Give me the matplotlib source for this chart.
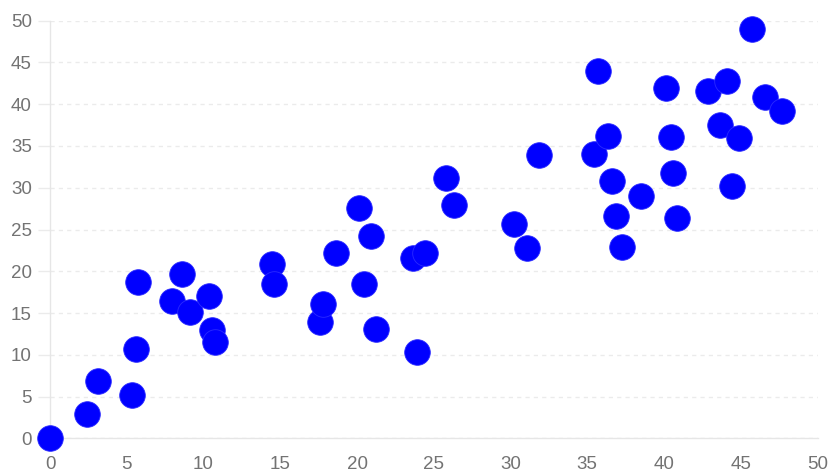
import numpy as np
import matplotlib
matplotlib.use("Agg")
import matplotlib.pyplot as plt

plt.rcParams['font.family'] = ['Liberation Sans', 'DejaVu Sans']

# point values
x_vals = [0, 2.43, 3.15, 5.36, 5.6, 5.75, 7.93, 8.62, 9.14, 10.38,
          10.55, 10.77, 14.44, 14.61, 17.57, 17.81, 18.63, 20.13, 20.9, 20.48,
          21.24, 23.67, 24.43, 23.93, 25.78, 26.32, 30.25, 31.05, 31.86, 35.72,
          35.42, 36.37, 36.63, 36.85, 37.26, 38.48, 40.11, 40.46, 40.59, 40.85,
          42.85, 44.1, 43.65, 44.86, 44.43, 45.71, 46.6, 47.7]
y_vals = [0, 2.87, 6.86, 5.19, 10.7, 18.68, 16.44, 19.64, 15.09, 17.08,
          12.97, 11.5, 20.84, 18.44, 13.89, 16.05, 22.23, 27.54, 24.26, 18.44,
          13.09, 21.63, 22.16, 10.37, 31.14, 27.94, 25.63, 22.75, 33.93, 43.99,
          34.05, 36.2, 30.85, 26.62, 22.95, 29.02, 41.92, 36.12, 31.81, 26.35,
          41.63, 42.8, 37.52, 35.93, 30.25, 48.98, 40.91, 39.23]
ticks = list(range(0, 51, 5))

fig = plt.figure(figsize=(8.3, 4.74), dpi=100)
ax = fig.add_axes([50 / 830, 1 - 438.3 / 474, 767.5 / 830, (438.3 - 20.7) / 474])

ax.scatter(x_vals, y_vals, s=340, color="#0000ff", edgecolors="#2a2aff",
           linewidths=0.6, zorder=3, clip_on=False)

ax.set_xlim(0, 50)
ax.set_ylim(0, 50)
ax.set_xticks(ticks)
ax.set_yticks(ticks)

ax.yaxis.grid(True, color="#ebebeb", linestyle=(0, (3, 3)), linewidth=1)
ax.xaxis.grid(False)
ax.set_axisbelow(True)

for side in ["top", "right"]:
    ax.spines[side].set_visible(False)
for side in ["left", "bottom"]:
    ax.spines[side].set_color("#e6e6e6")
    ax.spines[side].set_linewidth(1)

ax.tick_params(axis="y", length=9, width=1, color="#ebebeb", pad=4,
               labelsize=13.5, labelcolor="#737373")
ax.tick_params(axis="x", length=0, pad=13, labelsize=13.5, labelcolor="#737373")

fig.savefig("out.png", dpi=100)
